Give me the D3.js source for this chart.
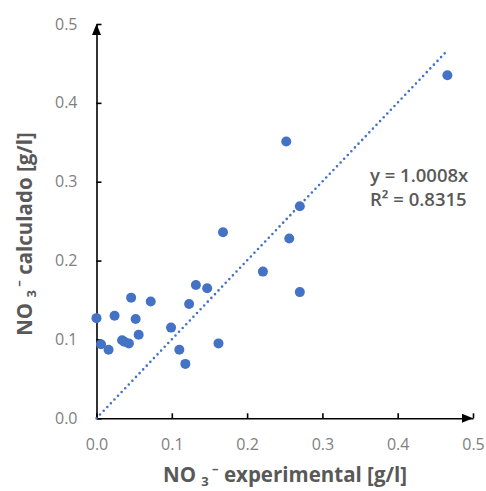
<!DOCTYPE html>
<html>
<head>
<meta charset="utf-8">
<script src="https://cdn.jsdelivr.net/npm/d3@7"></script>
<style>
  body { margin: 0; background: #fff; }
  svg { display: block; }
</style>
</head>
<body>
<svg id="chart" width="486" height="491"></svg>
<script>
// NO3- experimental vs calculado (g/l)
const experimental = [0.000, 0.006, 0.016, 0.024, 0.034, 0.037, 0.043, 0.046, 0.052, 0.056,
  0.072, 0.099, 0.110, 0.118, 0.123, 0.132, 0.147, 0.162, 0.168, 0.221,
  0.252, 0.256, 0.270, 0.270, 0.466];
const calculado = [0.127, 0.094, 0.087, 0.130, 0.099, 0.097, 0.095, 0.153, 0.126, 0.106,
  0.148, 0.115, 0.087, 0.069, 0.145, 0.169, 0.165, 0.095, 0.236, 0.186,
  0.351, 0.228, 0.269, 0.160, 0.435];
const tickValues = [0, 0.1, 0.2, 0.3, 0.4, 0.5];
const slope = 1.0008;
const r2 = 0.8315;

const blue = "#4472c4";
const svg = d3.select("#chart");

const x = d3.scaleLinear().domain([0, 0.5]).range([96.5, 473]);
const y = d3.scaleLinear().domain([0, 0.5]).range([418.3, 24]);

// axes (ticks point inward)
const xAxis = svg.append("g")
  .attr("transform", `translate(0,${y(0)})`)
  .call(d3.axisBottom(x).tickValues(tickValues).tickFormat(d3.format(".1f"))
    .tickSizeInner(-5).tickSizeOuter(0).tickPadding(20));
const yAxis = svg.append("g")
  .attr("transform", `translate(${x(0)},0)`)
  .call(d3.axisLeft(y).tickValues(tickValues).tickFormat(d3.format(".1f"))
    .tickSizeInner(-5).tickSizeOuter(0).tickPadding(19));

[xAxis, yAxis].forEach(g => {
  g.select(".domain").attr("stroke", "#000").attr("stroke-width", 1.6);
  g.selectAll(".tick line").attr("stroke", "#000").attr("stroke-width", 1.6);
  g.selectAll(".tick text")
    .attr("fill", "#808080")
    .style("font-family", "'Open Sans', sans-serif")
    .style("font-size", "16px");
});

// arrow heads
svg.append("path")
  .attr("d", `M${x(0.5)},${y(0)} l-11,-4.5 l0,9 z`)
  .attr("fill", "#000");
svg.append("path")
  .attr("d", `M${x(0)},${y(0.5)} l-4.5,11 l9,0 z`)
  .attr("fill", "#000");

// trendline through origin, over data range
const xMax = d3.max(experimental);
svg.append("line")
  .attr("x1", x(0)).attr("y1", y(0))
  .attr("x2", x(xMax)).attr("y2", y(slope * xMax))
  .attr("stroke", blue)
  .attr("stroke-width", 2.6)
  .attr("stroke-linecap", "round")
  .attr("stroke-dasharray", "0 5.2");

// points
svg.append("g").selectAll("circle")
  .data(experimental.map((v, i) => [v, calculado[i]]))
  .join("circle")
  .attr("cx", d => x(d[0]))
  .attr("cy", d => y(d[1]))
  .attr("r", 5)
  .attr("fill", blue);

// regression label
const eq = svg.append("text")
  .attr("x", 370).attr("y", 182)
  .attr("fill", "#595959")
  .style("font-family", "'Open Sans', sans-serif")
  .style("font-weight", "600")
  .style("font-size", "18.5px");
eq.append("tspan").text(`y = ${slope.toFixed(4)}x`);
eq.append("tspan").attr("x", 370).attr("dy", 24).text(`R² = ${r2}`);

// axis titles
function title(sel, rest) {
  sel.attr("fill", "#595959")
    .style("font-family", "'Open Sans', sans-serif")
    .style("font-weight", "bold")
    .style("font-size", "20.5px");
  sel.append("tspan").text("NO ");
  sel.append("tspan").attr("font-size", "13px").attr("dy", 4).text("3");
  sel.append("tspan").attr("font-size", "13px").attr("dy", -13).text(" \u2013");
  sel.append("tspan").attr("dy", 9).text(" " + rest);
}

svg.append("text")
  .attr("x", 285).attr("y", 482)
  .attr("text-anchor", "middle")
  .call(title, "experimental [g/l]");

svg.append("text")
  .attr("transform", "translate(32,234) rotate(-90)")
  .attr("text-anchor", "middle")
  .call(title, "calculado [g/l]");
</script>
</body>
</html>
